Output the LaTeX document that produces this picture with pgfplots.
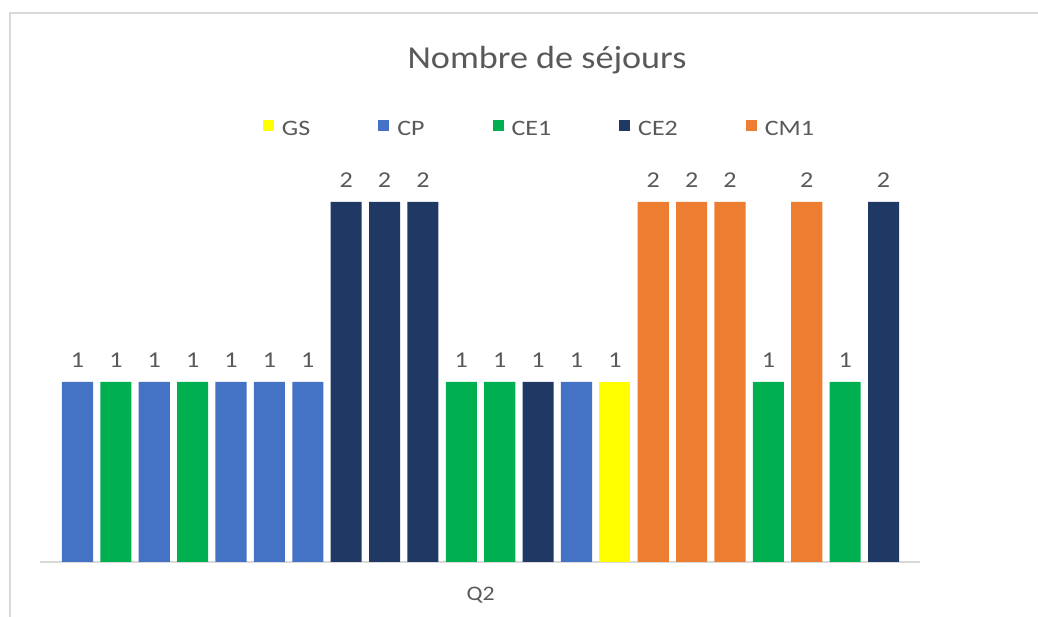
\documentclass[border=0pt]{standalone}
\usepackage{pgfplots}
\pgfplotsset{compat=1.18}
\usepackage{graphicx}
\usepackage{fontspec}
\setmainfont{Carlito}
\definecolor{cGS}{HTML}{FFFF00}
\definecolor{cCP}{HTML}{4472C4}
\definecolor{cCEa}{HTML}{00B050}
\definecolor{cCEb}{HTML}{1F3864}
\definecolor{cCM}{HTML}{ED7D31}
\definecolor{txt}{HTML}{595959}
\definecolor{framec}{HTML}{D9D9D9}
\newcommand{\W}[1]{\scalebox{1.15}[1]{#1}}
\newcommand{\WL}[1]{\scalebox{1.18}[1]{#1}}
\newcommand{\fT}{\fontsize{24}{28}\selectfont}
\newcommand{\fL}{\fontsize{16.5}{19}\selectfont}
\newcommand{\fQ}{\fontsize{15.5}{18}\selectfont}
\newcommand{\fD}{\fontsize{17}{20}\selectfont}
\begin{document}
\begin{tikzpicture}
\useasboundingbox (0pt,0pt) rectangle (778.5pt,462.75pt);
\draw[framec, line width=1.5pt] (7.5pt,0pt) -- (7.5pt,453pt) -- (778.5pt,453pt);
\node[anchor=base, font=\fT, text=txt, inner sep=0pt] at (410.25pt,411pt) {\scalebox{1.13}[1]{Nombre de séjours}};
\begin{axis}[
 at={(30pt,41.25pt)}, anchor=south west, scale only axis, width=660pt, height=297pt,
 ybar, bar width=0.81, bar shift=0pt,
 xmin=-0.977, xmax=21.95, ymin=0, ymax=2.2,
 axis y line=none, axis x line=bottom,
 x axis line style={draw=framec, line width=1.1pt, -},
 xtick={10.5}, xticklabels={\W{Q2}}, major tick length=0pt, xtick style={draw=none},
 xticklabel style={anchor=base, yshift=-29.25pt, font=\fQ, text=txt, inner sep=0pt},
 /pgf/number format/assume math mode=true,
 clip=false,
 nodes near coords={\W{\pgfmathprintnumber[assume math mode=true]{\pgfplotspointmeta}}},
 every node near coord/.append style={anchor=base, yshift=10.5pt, inner sep=0pt, font=\fD, text=txt},
 legend columns=5,
 legend style={draw=none, fill=none, at={(0.568,1.093)}, anchor=center, font=\fL, text=txt,
   /tikz/every odd column/.append style={column sep=4pt},
   /tikz/every even column/.append style={column sep=49pt}},
 legend image code/.code={\fill[#1] (0pt,-1.2pt) rectangle (8.25pt,7.05pt);},
]
\addplot[fill=cGS, draw=none] coordinates {(14,1)};
\addlegendentry{\WL{GS}}
\addplot[fill=cCP, draw=none] coordinates {(0,1) (2,1) (4,1) (5,1) (6,1) (13,1)};
\addlegendentry{\WL{CP}}
\addplot[fill=cCEa, draw=none] coordinates {(1,1) (3,1) (10,1) (11,1) (18,1) (20,1)};
\addlegendentry{\WL{CE1}}
\addplot[fill=cCEb, draw=none] coordinates {(7,2) (8,2) (9,2) (12,1) (21,2)};
\addlegendentry{\WL{CE2}}
\addplot[fill=cCM, draw=none] coordinates {(15,2) (16,2) (17,2) (19,2)};
\addlegendentry{\WL{CM1}}
\end{axis}
\end{tikzpicture}
\end{document}
